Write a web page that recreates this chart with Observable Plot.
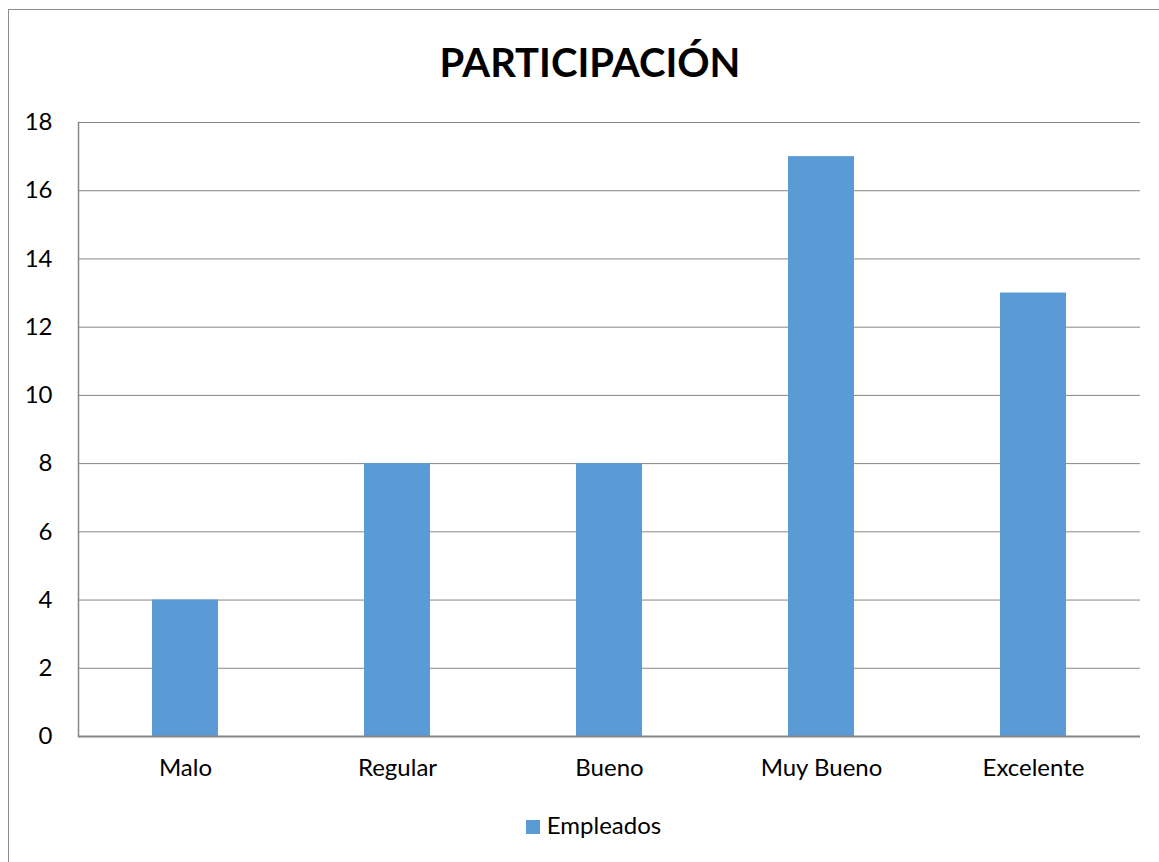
<!DOCTYPE html>
<html>
<head>
<meta charset="utf-8">
<script src="https://cdn.jsdelivr.net/npm/d3@7"></script>
<script src="https://cdn.jsdelivr.net/npm/@observablehq/plot@0.6"></script>
<style>
  html, body { margin: 0; padding: 0; background: #fff; }
  body { font-family: Lato, "Open Sans", sans-serif; }
  #wrap { position: relative; width: 1159px; height: 862px; overflow: hidden; }
  #frame { position: absolute; left: 8px; top: 9px; width: 1300px; height: 1000px; border: 1.5px solid #8c8c8c; box-sizing: border-box; }
  #title { position: absolute; left: 0; top: 0; width: 1180px; height: 100px; text-align: center; font-weight: bold; font-size: 40px; padding-top: 42px; box-sizing: border-box; line-height: 1; color: #000; }
  #chart { position: absolute; left: 0; top: 100px; }
  #legend { position: absolute; left: 0; top: 811px; width: 1187px; text-align: center; font-size: 24px; line-height: 28px; color: #000; }
  #legend .sw { display: inline-block; width: 14px; height: 14px; background: #5B9BD5; margin-right: 7px; vertical-align: 0px; }
</style>
</head>
<body>
<div id="wrap">
  <div id="frame"></div>
  <div id="title">PARTICIPACIÓN</div>
  <div id="chart"></div>
  <div id="legend"></div>
</div>
<script>
const categories = ["Malo", "Regular", "Bueno", "Muy Bueno", "Excelente"];
const empleados = [4, 8, 8, 17, 13];
const yTicks = [0, 2, 4, 6, 8, 10, 12, 14, 16, 18];
const seriesName = "Empleados";

const data = categories.map((c, i) => ({category: c, value: empleados[i]}));

const chart = Plot.plot({
  width: 1159,
  height: 700,
  marginTop: 22,
  marginBottom: 64,
  marginLeft: 78,
  marginRight: 19,
  style: {fontFamily: "Lato, 'Open Sans', sans-serif", fontSize: "24px", color: "#000", background: "transparent"},
  x: {domain: categories, paddingInner: 0.69, paddingOuter: 0.345, label: null},
  y: {domain: [0, 18], label: null},
  marks: [
    Plot.gridY(yTicks, {stroke: "#868686", strokeOpacity: 1, strokeWidth: 1}),
    Plot.barY(data, {x: "category", y: "value", fill: "#5B9BD5"}),
    Plot.frame({anchor: "left", stroke: "#868686", strokeWidth: 1.5}),
    Plot.ruleY([0], {stroke: "#868686", strokeWidth: 2}),
    Plot.axisY(yTicks, {tickSize: 0, tickPadding: 26, fontSize: 24, fill: "#000", label: null}),
    Plot.axisX({tickSize: 0, tickPadding: 22, fontSize: 24, fill: "#000", label: null})
  ]
});
document.getElementById("chart").appendChild(chart);
document.getElementById("legend").innerHTML = '<span class="sw"></span>' + seriesName;
</script>
</body>
</html>
